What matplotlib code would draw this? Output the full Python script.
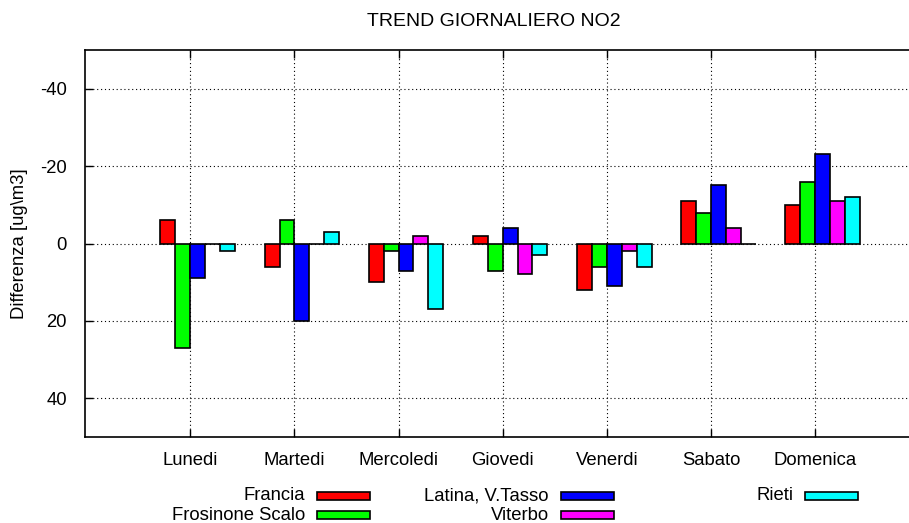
import numpy as np
import matplotlib
matplotlib.use('Agg')
import matplotlib.pyplot as plt
from matplotlib.patches import Rectangle

plt.rcParams['font.family'] = ['Liberation Sans', 'DejaVu Sans']
plt.rcParams['axes.unicode_minus'] = False

giorni = ['Lunedi', 'Martedi', 'Mercoledi', 'Giovedi', 'Venerdi', 'Sabato', 'Domenica']
stazioni = ['Francia', 'Frosinone Scalo', 'Latina, V.Tasso', 'Viterbo', 'Rieti']
colori = ['#ff0000', '#00ff00', '#0000ff', '#ff00ff', '#00ffff']

# differenze giornaliere [ug/m3]
francia = [-6, 6, 10, -2, 12, -11, -10]
frosinone = [27, -6, 2, 7, 6, -8, -16]
latina = [9, 20, 7, -4, 11, -15, -23]
viterbo = [0, 0, -2, 8, 2, -4, -11]
rieti = [2, -3, 17, 3, 6, 0, -12]
serie = [francia, frosinone, latina, viterbo, rieti]

fig = plt.figure(figsize=(9.09, 5.23), dpi=100)
ax = fig.add_axes([85/909, 86/523, 824/909, 387/523])

x = np.arange(len(giorni))
w = 1/7
for j, (vals, col) in enumerate(zip(serie, colori)):
    ax.bar(x + (j - 1.5)*w, vals, width=w, color=col, edgecolor='black',
           linewidth=1.2, zorder=3)

ax.set_xlim(-1.01, 6.9)
ax.set_ylim(50, -50)
ax.set_yticks([-40, -20, 0, 20, 40])
ax.set_xticks(x)
ax.set_xticklabels(giorni)

ax.grid(True, color='black', linestyle=(0, (1, 2.5)), linewidth=0.8)
ax.set_axisbelow(True)
ax.tick_params(axis='both', direction='in', length=6, width=1, labelsize=13.3,
               top=True, pad=13)
ax.tick_params(axis='x', pad=11)
for s in ['left', 'bottom', 'top']:
    ax.spines[s].set_linewidth(1.2)
ax.spines['right'].set_visible(False)

fig.text(494/909, 1 - 22/523, 'TREND GIORNALIERO NO2', ha='center', va='center', fontsize=14)
fig.text(20/909, 1 - 244/523, 'Differenza [ug\\m3]', ha='center', va='center',
         rotation=90, fontsize=13.3)

# legenda su due righe, testo allineato a destra e campione di colore
text_right = [305, 305, 549, 549, 793]
rows = [496, 515, 496, 515, 496]
for name, col, xr, yr in zip(stazioni, colori, text_right, rows):
    fig.text(xr/909, 1 - (yr + 4.5)/523, name, ha='right', va='baseline', fontsize=13.3)
    fig.add_artist(Rectangle(((xr + 12)/909, 1 - (yr + 4)/523), 53/909, 8/523,
                             transform=fig.transFigure, facecolor=col,
                             edgecolor='black', linewidth=1.2))

fig.savefig('out.png', dpi=100)
